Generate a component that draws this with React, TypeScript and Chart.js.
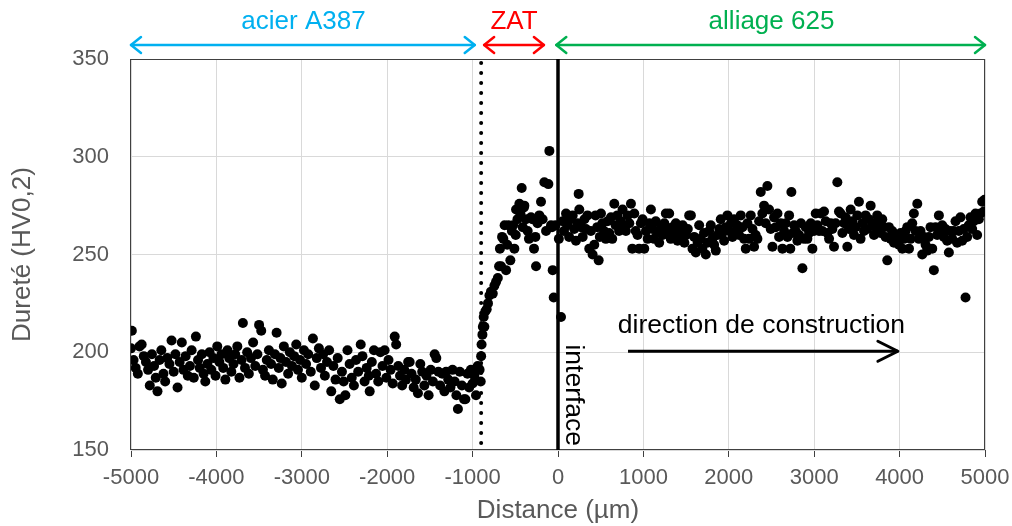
import React, { useEffect, useRef } from "react";
import { Chart, registerables } from "chart.js";

Chart.register(...registerables);

// ---------- data (µm, HV0,2) ----------
const steelX = [
  -5000, -4990, -4970, -4945, -4920, -4900, -4875, -4850, -4825, -4800,
  -4780, -4755, -4730, -4710, -4690, -4665, -4645, -4620, -4600, -4575,
  -4550, -4525, -4500, -4480, -4455, -4430, -4405, -4385, -4360, -4335,
  -4310, -4290, -4265, -4240, -4215, -4195, -4170, -4150, -4130, -4105,
  -4080, -4060, -4035, -4010, -3990, -3965, -3940, -3920, -3895, -3870,
  -3850, -3825, -3800, -3780, -3755, -3730, -3705, -3690, -3665, -3640,
  -3620, -3595, -3570, -3545, -3520, -3500, -3475, -3455, -3430, -3410,
  -3385, -3360, -3340, -3315, -3295, -3270, -3250, -3235, -3210, -3185,
  -3160, -3140, -3115, -3090, -3065, -3045, -3020, -3000, -2975, -2950,
  -2925, -2895, -2870, -2848, -2825, -2800, -2775, -2750, -2730, -2705,
  -2680, -2655, -2630, -2605, -2580, -2555, -2530, -2510, -2490, -2465,
  -2440, -2415, -2390, -2365, -2340, -2310, -2290, -2265, -2240, -2215,
  -2205, -2180, -2155, -2130, -2105, -2080, -2055, -2030, -2010, -1985,
  -1960, -1935, -1912, -1895, -1870, -1850, -1825, -1800, -1780, -1755,
  -1737, -1715, -1690, -1665, -1640, -1612, -1590, -1565, -1540, -1515,
  -1490, -1465, -1444, -1425, -1400, -1380, -1355, -1330, -1310, -1285,
  -1260, -1235, -1210, -1190, -1172, -1150, -1125, -1100, -1085, -1060,
  -1040, -1020, -1000, -980, -960, -940, -918,
];
const steelY = [
  202, 211, 196, 192, 189, 203, 204, 198, 195, 191,
  183, 199, 193, 187, 180, 196, 201, 189, 185, 197,
  194, 206, 190, 199, 182, 195, 205, 191, 198, 188,
  193, 201, 187, 208, 196, 192, 199, 189, 185, 194,
  200, 191, 197, 188, 203, 195, 199, 192, 186, 201,
  197, 190, 194, 199, 203, 187, 196, 215, 192, 200,
  189, 197, 205, 193, 199, 214, 211, 191, 188, 196,
  201, 194, 186, 199, 210, 192, 197, 184, 203, 195,
  189, 200, 193, 198, 204, 191, 196, 187, 201, 194,
  199, 190, 207, 183, 197, 202, 192, 199, 188, 195,
  201, 180, 193, 186, 197, 176, 190, 185, 178, 201,
  194, 187, 183, 196, 190, 204, 198, 185, 192, 188,
  180, 195, 201, 189, 185, 200, 193, 201, 187, 196,
  191, 184, 208, 204, 193, 188, 183, 191, 186, 195,
  195, 189, 182, 186, 179, 194, 190, 183, 188, 178,
  191, 185, 199, 197, 190, 183, 189, 180, 190, 186,
  182, 191, 185, 178, 171, 190, 183, 176, 176, 189,
  182, 191, 184, 188, 178, 193, 191,
];

const zatX = [
  -905, -900, -895, -885, -880, -870, -862, -850, -835, -820,
  -803, -785, -764, -745, -725, -705, -690, -680, -667, -655,
  -640, -625, -608, -595, -580, -558, -540, -525, -511, -495,
  -491, -475, -452, -440, -425, -413, -400, -394, -375, -355,
  -340, -316, -300, -281, -265, -257, -240, -219, -199, -180,
  -160, -140, -113, -101, -82, -70, -62, -50, -30,
];
const zatY = [
  185, 198, 204, 209, 213, 218, 213, 221, 222, 225,
  229, 231, 230, 234, 236, 238, 244, 253, 244, 259,
  258, 265, 242, 255, 265, 247, 262, 265, 253, 260,
  273, 268, 276, 271, 284, 264, 274, 275, 268, 262,
  258, 269, 268, 253, 259, 244, 266, 270, 277, 268,
  287, 262, 286, 303, 265, 264, 242, 228, 265,
];

const alloyX = [
  10, 35, 55, 70, 94, 110, 130, 150, 172, 190,
  210, 230, 242, 249, 270, 289, 310, 328, 345, 366,
  385, 405, 425, 440, 460, 476, 490, 503, 520, 539,
  560, 580, 600, 620, 635, 659, 675, 695, 715, 735,
  756, 775, 795, 815, 835, 854, 870, 893, 910, 932,
  950, 970, 990, 1010, 1030, 1050, 1070, 1088, 1105, 1125,
  1145, 1165, 1185, 1205, 1225, 1245, 1263, 1280, 1302, 1320,
  1340, 1360, 1380, 1400, 1420, 1440, 1460, 1480, 1500, 1520,
  1536, 1556, 1575, 1595, 1614, 1635, 1653, 1670, 1690, 1710,
  1731, 1750, 1770, 1789, 1808, 1828, 1848, 1868, 1888, 1906,
  1925, 1945, 1965, 1984, 2005, 2025, 2043, 2062, 2080, 2100,
  2120, 2140, 2160, 2179, 2199, 2218, 2237, 2257, 2277, 2296,
  2315, 2335, 2355, 2374, 2393, 2413, 2432, 2452, 2471, 2491,
  2511, 2530, 2550, 2570, 2589, 2608, 2628, 2648, 2667, 2687,
  2706, 2720, 2733, 2750, 2765, 2784, 2803, 2823, 2845, 2862,
  2881, 2901, 2920, 2940, 2960, 2979, 2998, 3018, 3037, 3057,
  3076, 3096, 3115, 3135, 3154, 3174, 3193, 3213, 3232, 3251,
  3271, 3290, 3310, 3330, 3350, 3368, 3388, 3407, 3427, 3446,
  3466, 3485, 3505, 3524, 3543, 3563, 3583, 3602, 3621, 3641,
  3661, 3680, 3700, 3719, 3738, 3758, 3777, 3797, 3817, 3836,
  3856, 3875, 3895, 3914, 3934, 3953, 3973, 3992, 4012, 4032,
  4051, 4070, 4090, 4110, 4129, 4148, 4167, 4187, 4207, 4226,
  4245, 4265, 4284, 4304, 4323, 4343, 4362, 4382, 4401, 4421,
  4440, 4460, 4480, 4499, 4518, 4538, 4557, 4577, 4596, 4616,
  4635, 4655, 4674, 4694, 4713, 4733, 4752, 4772, 4791, 4810,
  4830, 4850, 4869, 4889, 4908, 4928, 4947, 4967, 4985, 4995,
];
const alloyY = [
  258, 218, 267, 262, 271, 265, 259, 268, 270, 263,
  257, 266, 281, 273, 264, 259, 268, 263, 270, 253,
  262, 250, 255, 270, 264, 247, 259, 271, 266, 262,
  258, 267, 261, 269, 258, 276, 265, 270, 262, 267,
  273, 264, 262, 270, 266, 276, 253, 271, 262, 260,
  253, 266, 268, 253, 262, 258, 266, 273, 263, 258,
  267, 261, 256, 264, 260, 266, 271, 262, 271, 258,
  264, 261, 266, 257, 262, 259, 265, 256, 260, 263,
  270, 270, 253, 259, 251, 256, 265, 258, 253, 261,
  250, 256, 262, 265, 258, 255, 252, 260, 263, 268,
  261, 257, 264, 270, 262, 266, 259, 268, 262, 265,
  260, 270, 264, 258, 253, 266, 258, 270, 263, 254,
  260, 258, 267, 282, 271, 275, 266, 285, 273, 263,
  254, 269, 264, 271, 259, 266, 253, 262, 266, 259,
  270, 253, 282, 261, 265, 262, 257, 260, 266, 243,
  258, 264, 258, 261, 266, 253, 262, 271, 265, 262,
  271, 262, 272, 267, 261, 258, 266, 263, 254, 266,
  287, 272, 271, 261, 266, 269, 254, 263, 273, 267,
  260, 264, 270, 277, 258, 266, 262, 270, 263, 268,
  275, 266, 260, 264, 270, 267, 261, 268, 264, 259,
  247, 264, 258, 262, 256, 260, 258, 255, 261, 253,
  258, 262, 264, 253, 258, 266, 271, 262, 276, 258,
  262, 250, 259, 255, 252, 259, 264, 253, 242, 264,
  260, 270, 262, 265, 259, 263, 257, 251, 262, 258,
  262, 267, 256, 262, 269, 257, 263, 228, 259, 265,
  269, 263, 267, 271, 260, 268, 271, 277, 272, 278,
];

// ---------- axes ----------
const X_MIN = -5000;
const X_MAX = 5000;
const X_STEP = 1000;
const Y_MIN = 150;
const Y_MAX = 350;
const Y_STEP = 50;
const X_TITLE = "Distance (µm)";
const Y_TITLE = "Dureté (HV0,2)";

// ---------- annotations ----------
const ZAT_START = -900;
const INTERFACE_X = 0;
const zoneLabels = ["acier A387", "ZAT", "alliage 625"];
const zoneFrom = [-5000, -865, -20];
const zoneTo = [-975, -165, 5000];
const zoneLabelX = [-2980, -515, 2500];
const zoneColors = ["#00B0F0", "#FF0000", "#00B050"];
const directionLabel = "direction de construction";
const directionFrom = 820;
const directionTo = 3980;
const directionY = 200.5;
const directionLabelX = 700;
const directionLabelY = 210;
const interfaceLabel = "interface";
const interfaceLabelX = 90;
const interfaceLabelY = 204;

const FAMILY = '"Liberation Sans", Arial, Helvetica, sans-serif';
const AXIS_GREY = "#595959";

function head(ctx: any, tipX: number, tipY: number, dir: number, len: number, half: number) {
  ctx.beginPath();
  ctx.moveTo(tipX - dir * len, tipY - half);
  ctx.lineTo(tipX, tipY);
  ctx.lineTo(tipX - dir * len, tipY + half);
  ctx.stroke();
}

const decorPlugin = {
  id: "decor",
  beforeDatasetsDraw(chart: any) {
    const { ctx, chartArea: a, scales } = chart;
    const x = scales.x;
    ctx.save();
    // frame
    ctx.strokeStyle = "#404040";
    ctx.lineWidth = 1;
    ctx.strokeRect(a.left - 0.5, a.top + 0.5, a.right - a.left, a.bottom - a.top - 1);
    // dotted ZAT limit
    const zx = x.getPixelForValue(ZAT_START);
    ctx.strokeStyle = "#000";
    ctx.lineWidth = 4;
    ctx.lineCap = "round";
    ctx.setLineDash([0, 10]);
    ctx.beginPath();
    ctx.moveTo(zx, a.top + 4);
    ctx.lineTo(zx, a.bottom);
    ctx.stroke();
    ctx.setLineDash([]);
    ctx.lineCap = "butt";
    // interface
    const ix = x.getPixelForValue(INTERFACE_X);
    ctx.lineWidth = 3.5;
    ctx.beginPath();
    ctx.moveTo(ix, a.top);
    ctx.lineTo(ix, a.bottom);
    ctx.stroke();
    ctx.restore();
  },
  afterDraw(chart: any) {
    const { ctx, chartArea: a, scales } = chart;
    const x = scales.x;
    const y = scales.y;
    ctx.save();
    // zones on top
    const arrowY = a.top - 14;
    ctx.font = `26px ${FAMILY}`;
    ctx.textAlign = "center";
    ctx.textBaseline = "middle";
    ctx.lineCap = "round";
    ctx.lineJoin = "round";
    for (let i = 0; i < zoneLabels.length; i++) {
      const x1 = x.getPixelForValue(zoneFrom[i]);
      const x2 = x.getPixelForValue(zoneTo[i]);
      ctx.strokeStyle = zoneColors[i];
      ctx.lineWidth = 2.5;
      ctx.beginPath();
      ctx.moveTo(x1, arrowY);
      ctx.lineTo(x2, arrowY);
      ctx.stroke();
      head(ctx, x1, arrowY, -1, 10, 8);
      head(ctx, x2, arrowY, 1, 10, 8);
      ctx.fillStyle = zoneColors[i];
      ctx.fillText(zoneLabels[i], x.getPixelForValue(zoneLabelX[i]), a.top - 37);
    }
    // direction arrow
    const dy = y.getPixelForValue(directionY);
    const d1 = x.getPixelForValue(directionFrom);
    const d2 = x.getPixelForValue(directionTo);
    ctx.strokeStyle = "#000";
    ctx.lineWidth = 3;
    ctx.lineCap = "butt";
    ctx.beginPath();
    ctx.moveTo(d1, dy);
    ctx.lineTo(d2, dy);
    ctx.stroke();
    ctx.lineCap = "round";
    head(ctx, d2, dy, 1, 20, 10);
    ctx.fillStyle = "#000";
    ctx.font = `26.5px ${FAMILY}`;
    ctx.textAlign = "left";
    ctx.textBaseline = "alphabetic";
    ctx.fillText(directionLabel, x.getPixelForValue(directionLabelX), y.getPixelForValue(directionLabelY));
    // interface label (rotated)
    ctx.translate(x.getPixelForValue(interfaceLabelX), y.getPixelForValue(interfaceLabelY));
    ctx.rotate(Math.PI / 2);
    ctx.textAlign = "left";
    ctx.textBaseline = "alphabetic";
    ctx.fillText(interfaceLabel, 0, 0);
    ctx.restore();
  },
};

export default function App() {
  const ref = useRef<HTMLCanvasElement | null>(null);
  useEffect(() => {
    document.body.style.margin = "0";
    document.body.style.overflow = "hidden";
    const canvas = ref.current;
    if (!canvas) return;
    const points: { x: number; y: number }[] = [];
    steelX.forEach((v, i) => points.push({ x: v, y: steelY[i] }));
    zatX.forEach((v, i) => points.push({ x: v, y: zatY[i] }));
    alloyX.forEach((v, i) => points.push({ x: v, y: alloyY[i] }));
    const chart = new Chart(canvas, {
      type: "scatter",
      data: {
        datasets: [
          {
            label: Y_TITLE,
            data: points,
            pointRadius: 5,
            pointHoverRadius: 5,
            backgroundColor: "#000",
            borderColor: "#000",
            borderWidth: 0,
          },
        ],
      },
      options: {
        animation: false,
        responsive: true,
        maintainAspectRatio: false,
        layout: { padding: { top: 59, right: 27, left: 0, bottom: 0 } },
        plugins: { legend: { display: false }, tooltip: { enabled: false } },
        scales: {
          x: {
            type: "linear",
            min: X_MIN,
            max: X_MAX,
            afterFit: (s: any) => {
              s.height = 76;
              s.paddingLeft = 0;
              s.paddingRight = 0;
            },
            ticks: {
              stepSize: X_STEP,
              color: AXIS_GREY,
              font: { size: 22, family: FAMILY },
              padding: 8,
              maxRotation: 0,
              autoSkip: false,
              callback: (v: any) => String(v),
            },
            grid: { color: "#d9d9d9", tickColor: "#404040", tickLength: 7, lineWidth: 1 },
            border: { display: false },
            title: {
              display: true,
              text: X_TITLE,
              color: AXIS_GREY,
              font: { size: 26, family: FAMILY },
              padding: 0,
            },
          },
          y: {
            type: "linear",
            min: Y_MIN,
            max: Y_MAX,
            afterFit: (s: any) => {
              s.width = 131;
              s.paddingTop = 0;
              s.paddingBottom = 0;
            },
            ticks: {
              stepSize: Y_STEP,
              color: AXIS_GREY,
              font: { size: 22, family: FAMILY },
              padding: 22,
              callback: (v: any) => String(v),
            },
            grid: { color: "#d9d9d9", drawTicks: false, lineWidth: 1 },
            border: { display: false },
            title: {
              display: true,
              text: Y_TITLE,
              color: AXIS_GREY,
              font: { size: 26, family: FAMILY },
              padding: { top: 7, bottom: 0 },
            },
          },
        },
      },
      plugins: [decorPlugin],
    } as any);
    return () => chart.destroy();
  }, []);
  return (
    <div style={{ position: "relative", width: 1012, height: 526 }}>
      <canvas ref={ref} />
    </div>
  );
}
